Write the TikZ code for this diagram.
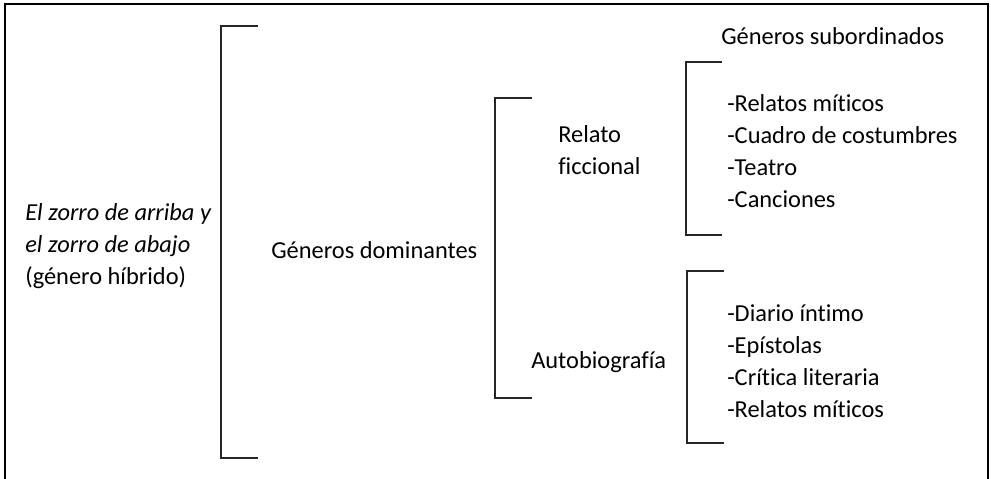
\documentclass[tikz,border=0pt]{standalone}
\usepackage{fontspec}
\setmainfont[RawFeature=-liga]{Carlito}
\begin{document}
\begin{tikzpicture}[x=0.75pt,y=-0.75pt,
  txt/.style={anchor=base west,inner sep=0pt,font=\fontsize{18.3}{22}\selectfont},
  frame/.style={line width=1.5pt,black},
  brack/.style={line width=1.1pt,black!85}]
\useasboundingbox (0,0) rectangle (991,478);
\draw[frame] (5,480) -- (5,4) -- (988,4) -- (988,480);
% brackets
\draw[brack] (258,26) -- (221,26) -- (221,458) -- (258,458);
\draw[brack] (532,98) -- (495,98) -- (495,398) -- (532,398);
\draw[brack] (722,62) -- (686,62) -- (686,235) -- (722,235);
\draw[brack] (724,271) -- (687,271) -- (687,443) -- (724,443);
% left
\node[txt] (l1) at (25,220) {\itshape El zorro de arriba y};
\node[txt] (l2) at (25,252) {\itshape el zorro de abajo};
\node[txt] (l3) at (25,284) {(género híbrido)};
\node[txt] (dom) at (271,258) {Géneros dominantes};
\node[txt] (rel1) at (558,142) {Relato};
\node[txt] (rel2) at (558,174) {ficcional};
\node[txt] (auto) at (531,368) {Autobiografía};
\node[txt] (sub) at (721,45) {Géneros subordinados};
\node[txt] (a1) at (727,111) {-Relatos míticos};
\node[txt] (a2) at (727,143) {-Cuadro de costumbres};
\node[txt] (a3) at (727,175) {-Teatro};
\node[txt] (a4) at (727,207) {-Canciones};
\node[txt] (b1) at (727,321) {-Diario íntimo};
\node[txt] (b2) at (727,353) {-Epístolas};
\node[txt] (b3) at (727,385) {-Crítica literaria};
\node[txt] (b4) at (727,417) {-Relatos míticos};
\end{tikzpicture}
\end{document}
